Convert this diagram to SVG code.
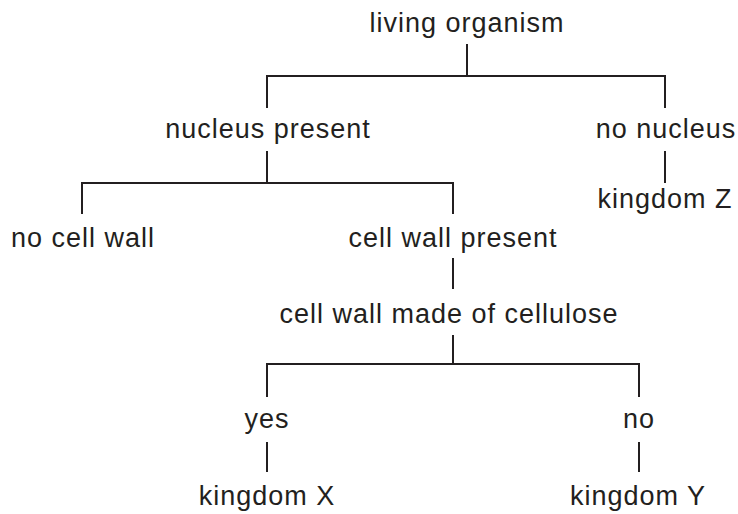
<svg xmlns="http://www.w3.org/2000/svg" width="738" height="514" viewBox="0 0 738 514">
<style>
text{font-family:"Liberation Sans",Arial,sans-serif;font-size:27px;letter-spacing:1px;fill:#231f20;text-anchor:middle}
.c path{fill:none;stroke:#231f20;stroke-width:2}
</style>
<rect width="738" height="514" fill="#fff"/>
<g class="c" id="connectors">
<path d="M467 44V76M267 108V76H665V108"/>
<path d="M267 151V183M82 214V183H453V214"/>
<path d="M665 151V183"/>
<path d="M453 258V289"/>
<path d="M453 335V364M267 397V364H639V397"/>
<path d="M267 442V472"/>
<path d="M639 442V472"/>
</g>
<g id="n-root"><text x="467" y="32">living organism</text></g>
<g id="n-nucleus"><text x="268" y="138">nucleus present</text></g>
<g id="n-nonucleus"><text x="666" y="138">no nucleus</text></g>
<g id="n-kz"><text x="665" y="208">kingdom Z</text></g>
<g id="n-nowall"><text x="83" y="247">no cell wall</text></g>
<g id="n-wall"><text x="453" y="247">cell wall present</text></g>
<g id="n-cellulose"><text x="449" y="323">cell wall made of cellulose</text></g>
<g id="n-yes"><text x="267" y="428">yes</text></g>
<g id="n-no"><text x="639" y="428">no</text></g>
<g id="n-kx"><text x="267" y="505">kingdom X</text></g>
<g id="n-ky"><text x="638" y="505">kingdom Y</text></g>
</svg>
